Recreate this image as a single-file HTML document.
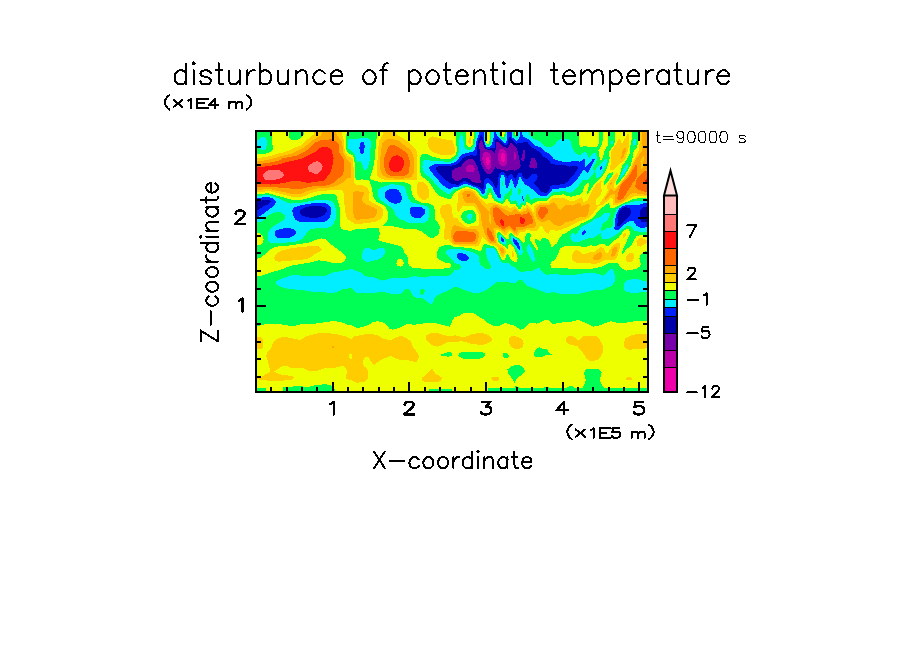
<!DOCTYPE html>
<html><head><meta charset="utf-8"><title>disturbunce of potential temperature</title>
<style>html,body{margin:0;padding:0;background:#fff;}body{width:904px;height:654px;position:relative;overflow:hidden;font-family:"Liberation Sans",sans-serif;}</style>
</head><body>
<svg width="904" height="654" viewBox="0 0 904 654" style="position:absolute;left:0;top:0">
<g shape-rendering="crispEdges">
<rect x="256.0" y="131.0" width="392.0" height="261.0" fill="#EEFF00"/>
<path fill="#FFCC00" fill-rule="evenodd" d="M382.75,215.5 381,218.5 378.5,220.25 374.5,222 357.5,224.25 354.5,223.75 350.5,220.75 347.75,219.5 346.5,217.5 344.75,209.5 343.75,193.5 343,191.5 342,190.5 339.5,189.5 332.5,189.5 326.5,190.5 318.5,191 312.75,192.5 302.5,196.75 298.5,197.25 290.5,196.5 269.5,191.25 255.5,192 255.5,157.75 260.5,157.75 267.5,156.75 278.25,153.5 283.5,152.5 288.5,150.75 294.5,147.5 300.5,145.5 303.5,143.5 306.5,140.25 313.75,134.5 314.25,130.5 341.75,130.5 341.75,133.5 344.25,141.5 344.5,149.5 345.25,152.5 347.5,155.75 351.5,157.5 352.5,159.25 353.5,166.5 353.5,178.5 354.25,182.5 355.5,184.25 356.5,184.75 362.5,185.5 366.5,187.25 367.75,188.5 369.5,192.5 368.75,198.5 369.25,200.5 372.5,203 379.75,206.5 382,208.5 383,210.5 383.25,212.5ZM416.5,180.5 387.5,180 382.5,179.25 380.5,178.5 377.75,176.5 376.75,174.5 376.75,170.5 378.5,146.5 379.5,140.5 383,134.5 383.25,130.5 396.25,130.5 396.25,133.5 397.5,135 404,138.5 412.25,145.5 416,149.5 417.5,155.5 417.25,178.5ZM444.5,238.75 444.25,232.5 445,223.5 443.5,219.5 440.75,215.5 440,211.5 440.5,208 441.25,206.5 442.5,205.5 447.5,204 449.5,204 450.25,204.5 451.75,207.5 452.25,213.5 453.5,217 454.5,217.75 457.5,218.5 459.5,221.5 464.5,226 466.5,226.75 477.5,226 478.5,224.75 479.25,221.5 479.25,216.5 478.75,214.5 475,207.5 473.75,206.5 471.5,206 462.5,206.25 459.75,210.5 458.5,211.75 457.5,211.25 457,205.5 458.25,199.5 457.75,194.5 459,192.5 461.5,190.5 466.5,188.75 470.75,189.5 474.75,191.5 480.5,198.5 486.5,203.5 487.5,203.75 491.5,202.5 493.5,202.5 503.5,206 506.5,205.25 510.5,208.5 514.5,206.25 519.5,211 521.5,210.5 523.5,207.25 525.5,208.25 526.5,205.25 527.5,205 530.5,207.5 533.5,212.25 534.25,206.5 536.5,204.5 541.5,202.75 546.5,203 548.5,202.5 552,198.5 553.5,198 558.5,198.25 563.5,197.75 569.5,200.75 572.5,201.25 575.25,200.5 581.5,197 582.25,197.5 582.75,201.5 583.5,202.25 584.5,202.25 587.75,199.5 591.5,191.5 595.25,185.5 597.5,183.25 601.5,180.5 601.75,181.5 600.5,185.5 600.5,187.75 602.25,190.5 600.5,194.5 596.25,199.5 595.5,201.25 595.5,203 596.5,204.5 598.5,205 605.75,194.5 607.25,191.5 607.75,189.5 606.75,186.5 608,183.5 615.5,173.75 617.5,172.5 618.25,173.5 618,175.5 613.5,184.5 613.5,186.5 614.5,187.75 615.5,187.75 618.5,185 626,175.5 630,169.5 634.5,158.5 638.5,150.5 639.75,142.5 639.75,130.5 648.5,130.5 648.5,196.25 634.25,196.5 630.5,198 620.75,203.5 615.5,205.5 613.5,205.25 612.75,204.5 612.5,198.5 611.5,197.75 610.5,198 603.5,204.25 598.5,206 593,213.5 587.5,218.5 583.5,220.25 579.5,221 567.5,227.5 564.5,228.25 560.5,230.25 555.5,230.75 551.5,229.75 550.5,230 548.5,233.75 546.5,233 545,231.5 542.5,227 540.5,225.5 538.5,229.25 535.5,231.25 533.25,231.5 528.5,230 526.5,230.25 523.5,232.25 520.5,232 519.5,232.5 518.5,235.5 517.5,236 515.5,235.5 511.25,231.5 509.5,230.75 508.5,231.5 506.5,235.25 504.5,235 500.5,231.25 497.5,229.75 496.5,230.25 495.75,231.5 496,236.5 497.25,242.5 498.5,244.5 503,246.5 504.5,248 505.5,250.25 505.5,252.5 503.5,257.25 502.5,257.25 500.5,254.5 497.5,247.25 496.5,246 488.5,243.25 482.5,237 479.5,244.5 478.5,245.75 475.5,246.5 454.5,245.25 452.75,244.5 448.5,239.25 445.5,239.75ZM610.5,170 609.75,169.5 611.5,158.5 611,153.5 611.5,150.75 615.75,144.5 618.5,138.5 619.5,138.5 621,140.5 621.5,143 622.5,143 627.5,134.25 628.5,133.75 629.25,137.5 629.25,142.5 628.25,149.5 626,156.5 624,160.5 622.5,162.25 618.5,164.75 613.75,169.5ZM454.5,152.5 453.5,153.75 451.5,154.75 446.5,155 440.5,154.5 433.5,152.25 430.75,150.5 428.5,147.5 427.5,143.5 427.75,140.5 429.75,137.5 432.5,136.25 442.5,139 451.75,140.5 452.5,141.25 454.75,147.5 455,150.5ZM469.5,143.75 468.5,142.75 468.25,140.5 469.5,137.5 470.5,137.25 471.25,141.5 470.5,143.75ZM426.5,199.25 424.5,199.75 422.5,199.5 419.5,197.75 418,195.5 416.75,191.5 416.75,188.5 417.5,183.5 418.5,181.5 420.5,181.5 424.5,182.75 426.5,184.5 427.5,186.25 429.25,191.5 429.25,195.5 428.5,197.5ZM623.5,238 623,237.5 623.5,234.25 625,232.5 626.25,232.5 626.25,234.5 625.25,236.5ZM636.5,244.75 636.5,241.5 637.5,239.75 639.5,238.25 642.5,238.25 646.5,240 648.5,240.25 648.5,243.25 646.5,243.25 640.5,246.5 637.5,246.25ZM572.5,260.5 571.75,257.5 572.25,254.5 573.25,252.5 575.5,250 577.5,249.75 582.5,253.5 584.5,254 589.5,252.25 594.5,251.75 599.5,247.75 601.5,247 603.75,248.5 605.5,252.5 606.5,253.5 607.5,253.5 613.5,244.5 618.5,242.5 620,242.5 620.5,243.25 620.25,246.5 617.5,255.75 616,258.5 613.5,260.25 606.5,259.5 604.5,260 599.5,263 594.5,264 584.5,262.5 576.25,262.5 573.5,261.5ZM274,258.5 274.75,255.5 277.5,252.5 281.5,250.5 288.5,248.75 301.5,246.75 316.5,246 319.5,246.75 321.25,248.5 321.5,249.5 320,251.5 313.5,254.75 310.5,257.5 305.5,259.25 278.5,261.75 275.5,261ZM513.5,257.25 512.5,257 511.5,254.75 511.5,249.25 513.5,252.5 514,255.5ZM627.5,262.25 625.75,259.5 626.5,255.75 629.5,253 630.5,252.75 633,253.5 634.25,255.5 634.25,257.5 633,260.5 630.5,262.25ZM418.75,355.5 418.5,358 417.5,360.5 416.5,361.5 414.5,362 407.5,360 399.5,359.75 396.5,359 391.5,356.25 389.5,356.25 380.5,360.25 374.5,364.5 372.5,364 368.75,357.5 367.5,356.5 366.5,356.5 364.5,358 363.25,360.5 362.75,363.5 364.25,366.5 366.5,368.25 368.25,370.5 368.25,377.5 366.5,380.5 364.5,381.5 357.5,382.75 355.5,382.5 351.5,380.5 348.5,380 346.25,378.5 345.75,376.5 347,372.5 347,370.5 344.5,366.75 341.5,366 334.5,367.75 325.5,368 316.5,371 311.5,371.25 308.5,370.75 304.5,368.75 301.5,368 292.5,368.25 286.5,366 284.5,365.75 281.5,366.75 274,371.5 279.5,374.25 282.5,375 292.5,376 293.75,377.5 293.25,378.5 291.5,379.5 282.5,380.75 268.5,380.75 255.5,379 255.5,377.5 258.5,377.5 262.5,376.25 270.25,371.5 268.25,362.5 266.25,356.5 266.75,352.5 270.5,348.75 273.75,341.5 275.5,339.5 278.5,338 282.5,337.25 287.5,337.5 299.5,339.75 301.5,339.25 307.5,335.75 317.5,333.25 326.5,333.25 334.5,333.75 346.5,336.5 350.5,339 352,338.5 354.5,336.25 365.5,334.25 372.5,334.25 377.5,335.25 383.5,338.75 390.75,340.5 396.5,337 399.5,336.25 402.5,336.5 407.5,338.75 409.75,340.5 411.25,342.5 413.75,348.5 417.5,352.75ZM425.5,337.25 426.25,335.5 429.5,333.5 432.5,333 438.5,333.5 444.5,335.25 449.5,336 455.5,335.25 462.5,337.25 464.5,337.25 471.5,334.25 480.5,332.75 485.5,334 489.5,335.75 491.5,337.5 492,339.5 491.5,340.75 489.5,342.5 483.5,344.5 476.5,344.5 470.5,343.5 462.5,341.25 447.25,342.5 439.5,346.25 437.5,346.5 433.5,345.75 429.5,343.5 425.75,339.5ZM624.5,347.5 623.75,344.5 624.5,340.5 625.5,338.5 627.5,337 631.5,335.25 636.5,334 648.5,334 648.5,348.25 628.5,349.75 626.5,349.25ZM602,354.5 600.5,357 597.5,359.75 593.5,361 589.5,360.75 586.25,358.5 582.5,351.75 577.5,346.5 568.5,344.25 566.25,341.5 566.25,338.5 568.25,336.5 571.5,336 574.5,337.25 577.5,340.25 579.5,339.5 583.25,336.5 586.5,335.5 591.5,335.5 596.5,336.5 599,338.5 602.75,345.5 603.25,349.5ZM522,347.5 518.5,349 514.5,348.75 511.75,347.5 510,345.5 508.75,341.5 508.75,339.5 509.75,337.5 511.5,336 514.5,335.75 521,338.5 522.75,340.5 523.5,343.5 522.75,346.5ZM261.5,348.5 255.5,349 255.5,337 260.5,337.5 262.5,339 263.25,340.5 263.25,344.5 262.5,347.5ZM350.5,359 351.5,358.5 352,356.5 351.5,353.75 350.75,353.5 349.5,354.25 349.25,357.5ZM442,378.5 440.5,380.75 438.5,381.5 432.5,382 424.5,381.5 422.5,380.75 421.5,379.5 422,377.5 426.5,374.5 431.5,368.5 432.5,369 435.5,373.5 441.5,377.25ZM499.25,379.5 497.5,381 494.5,381.25 491.5,379.5 491.25,378.5 491.75,377.5 493.5,376.5 496.5,376.5 498.5,377.5 499.25,378.5ZM632.25,378.5 631.5,379.75 629.5,380.25 626.5,380 625.5,378.75 627.5,377.25 630.5,377.5Z"/>
<path fill="#FFA500" fill-rule="evenodd" d="M255.5,189.75 255.5,161 260.5,161 267.5,160 293.5,153 304.5,147.25 312.5,140.25 320.5,135.75 322,133.5 322,130.5 336,130.5 336.75,135.5 341.5,140.75 342.25,142.5 343,152.5 347.5,160.5 350.25,162.5 350.75,163.5 351.5,173.5 350.5,177.75 347.5,178 343.5,182 335.5,186.25 326.5,188 316.5,188.5 308.5,190.5 302.5,193.25 299.5,194 290.5,193.5 270.5,189.25ZM605,199.5 605.5,197.5 610.5,189.25 611.5,189.25 613.5,191 615.25,190.5 627.5,175.25 630.5,170.75 636.25,158.5 641.5,151.5 641.5,143.5 642.25,138.5 642.5,130.5 648.5,130.5 648.5,194.5 644.5,194.5 633.5,193 631.5,193.5 626.25,198.5 622.5,201.25 617.5,203.25 615,202.5 615,195.5 614.5,194.25 613.5,193.5 610.5,195.25 605.5,199.75ZM411.5,176.5 409.5,177.5 403.5,178.5 393.5,178.5 387.5,177.75 384.5,176.5 382,174.5 381,172.5 380.25,168.5 380.5,156.5 381.75,145.5 382.75,142.5 384.5,140.5 386.5,139.5 391.5,138.75 398.5,140.75 401.5,142.5 403.5,144.75 408.5,148.25 410.75,150.5 412.75,154.5 414.25,159.5 413.75,171.5 413,174.5ZM621.5,159.5 621.25,157.5 622,151.5 623.5,149 624.5,148.25 625.5,148.25 625.5,151.5 623.25,157.5ZM641.5,168.75 642.5,168.25 643.5,166.5 643.25,162.5 644,158.5 643.5,156.25 642.5,156.5 640.5,161.5 641,164.5 640.75,167.5ZM610.5,184.75 610.25,183.5 611.5,181.75 611.5,183.75ZM373.5,217.5 365.5,219.25 361.5,219.25 357.5,220 355.5,219.25 354.25,217.5 353.25,212.5 353,206.5 353.5,198.5 353,193.5 353.5,192.25 355.5,191.25 362.5,191.75 363.75,192.5 363.75,194.5 362,198.5 362.25,200.5 363.25,202.5 366.5,204.75 374.25,207.5 376.5,209.5 377,211.5 376.75,213.5 375.75,215.5ZM535.75,225.5 534,227.5 532.5,228 527.5,228 522.5,229.75 518.5,229.5 516.5,233.75 514.5,233.25 510.5,229 508.5,228.75 504.5,232 498.5,228 496.5,227.5 494.5,227.75 493.5,229.5 495.5,239.5 495.5,242.5 493.5,243.5 490.5,242.75 488.5,241 485,234.5 481.75,223.5 481,214.5 477,205.5 474.5,203.25 465.75,202.5 464.75,201.5 463,197.5 462.25,194.5 462.5,193.5 464.5,191.25 467.5,190.5 470.5,191 473,192.5 481.5,203.5 488.5,211.5 489,211.5 489.5,221.5 490.5,224.25 491.5,223.5 490.5,215 489.5,212.5 489.75,209.5 492.5,205.5 495.5,205 497.5,205.5 503.5,209 509.25,211.5 512.25,211.5 514.5,209.25 515.5,209.5 518.5,212 520.5,212.75 522.5,212 523.75,210.5 526.25,210.5 527.5,208 530.5,210.75 533.5,215.5 535.75,222.5ZM536,215.5 535.5,211.5 536.25,208.5 538.5,205.75 542.5,204.5 548.5,205.25 553.5,202.25 556.5,204.75 558.25,208.5 560.5,209.75 565.5,205 572.5,205.5 578.5,202.75 579.5,203 581.5,205.5 582.5,205.75 588.5,203.5 589.75,205.5 588.5,212.5 587.5,214.5 585.5,216.5 583.5,217.25 580.5,217 577.5,217.75 572.5,220.75 565.25,222.5 561.25,225.5 559.5,226 555.5,225.25 553.5,224.25 549.75,220.5 548.5,220 543.5,222.25 540.5,221.5 537.5,219.5ZM477.25,242.5 475.5,243.75 473.5,244.25 454.25,243.5 452.25,241.5 451.25,237.5 451,231.5 452.75,226.5 454.5,225.25 455.5,225.25 466.5,229 474.5,229 476.5,229.75 478.25,231.5 478.75,233.5 478.75,237.5ZM502.5,253.75 501.5,253 500.25,250.5 500,248.5 500.5,247.5 502.5,247.75 503.75,249.5 503.5,252.75ZM612.5,256.75 611.25,255.5 612.25,249.5 613.5,247.5 615.5,246.5 616.5,247 617,248.5 616.5,251.75 614.5,255.75ZM593.75,259.5 592.75,257.5 594.5,255.25 599.5,252.25 600.5,252 601.5,253 602,255.5 600.5,258.5 597.5,260.25 595.5,260.25ZM333.5,347.75 332,347.5 331.5,346.5 332.5,345.5 333.5,345.5 334.25,346.5Z"/>
<path fill="#FF6600" fill-rule="evenodd" d="M255.5,187.25 255.5,164 261.5,163.75 273.5,162 278.5,160.5 282.5,158.5 296.5,155.5 301.25,153.5 307.5,149.75 310.5,147.5 315.5,142.25 320.5,140.5 331.5,139.25 335.5,141 338.25,143.5 338.75,144.5 338.75,150.5 339.25,152.5 343.25,158.5 344.25,162.5 344,170.5 342.5,175.5 337.5,179 333.5,182.75 330.5,184.25 325.5,185.5 315.5,185.75 299.5,189.25 271.5,187ZM406.5,174.75 404.5,175.75 399.5,176.5 392.5,176.25 388.5,175 386,172.5 383.75,165.5 384.25,157.5 388,147.5 390.5,145.25 393.5,145 398.5,147.25 405,151.5 407.75,154.5 409.75,160.5 410,164.5 408.5,172.5ZM617.75,200.5 617.25,198.5 618.75,190.5 621.25,184.5 628.75,176.5 635.5,165.25 636.5,165.5 636.75,175.5 636,178.5 632.5,183.25 623.75,197.5 620.5,200.25ZM648.5,192 645.5,192 638.5,189.75 636.5,188.5 635.25,186.5 636,181.5 637.5,177.75 641.5,173.5 644.25,171.5 646.5,170.75 648.5,170.75ZM470.25,195.5 468.5,197 467.5,196.75 467,195.5 467.25,194.5 468.5,193.75 469.5,194ZM532.5,222.5 531.5,224.5 529.5,224.25 524.5,226.75 522.5,227.25 517.5,226.75 516.25,227.5 515.5,229.5 514.5,230.5 510.5,226.75 508.5,226.25 506.5,227 504.5,228.75 502.25,228.5 496.5,224.75 494.75,222.5 493.25,215.5 493,210.5 493.5,208.5 495.5,207.25 498.5,208 503.5,213.25 507.5,215.75 510.5,215 513.5,215 516.5,213.5 520.5,214.5 522.5,214.5 524.5,213.75 526.5,214.25 528.5,212 531.75,216.5 532.5,219.25ZM540.5,218.5 538.75,216.5 538,213.5 538.75,209.5 540.25,207.5 544.5,206.75 547.5,208.5 548.25,209.5 548.25,211.5 543.5,218.25 542.5,218.75ZM493.5,241 492.5,241.5 491.5,241.25 489,238.5 486.5,232.75 486.5,228.25 487.5,228 488.5,228.5 491.25,231.5 493.5,237.25ZM476,237.5 474.75,240.5 472.5,241.75 455.5,241.75 454.5,241.25 453.25,238.5 453.5,235.5 454.5,232.75 456.5,231 473.5,231.75 475.5,233.5Z"/>
<path fill="#FF1111" fill-rule="evenodd" d="M255.5,184.25 255.5,167.25 261.5,167 278.5,164.5 285.5,162.25 299.5,159.25 304.5,157.5 315.5,151.75 319.5,148.25 321.5,147.25 328,147.5 330.25,148.5 331.75,150.5 333.5,158.5 332.5,165.5 331,170.5 329.5,173.5 325.5,179.25 323.5,180.75 311.5,182.5 306.5,182.5 297.5,180.75 293.5,180.5 282.5,183.25 270.5,184.5ZM398.5,172 394.5,172.25 392.5,171.5 390.25,169.5 389,166.5 389.5,162.25 391.5,158 393,156.5 396.5,155.25 399.5,155.75 402.5,158 403.5,160.25 404,163.5 403.5,166 401.5,170ZM648.5,184.25 645.5,183.5 644.75,180.5 646.5,178.75 648.5,178.5ZM522.5,224.5 520.75,223.5 519.5,221.5 520,217.5 521.5,216.75 524.5,219 525,220.5 524,223.5ZM502.5,225.75 501,224.5 500,221.5 500.5,219.5 501.5,218.75 504,221.5 504.25,224.5 503.5,225.5Z"/>
<path fill="#FF7777" fill-rule="evenodd" d="M314.5,173.75 309.25,171.5 307.75,169.5 307.75,167.5 308.5,166 312.5,162.75 316.5,161.25 318,161.5 320,162.5 321.75,164.5 322.5,166.5 322.25,168.5 321.5,170.25 319.25,172.5 317.5,173.5ZM283.75,174.5 283.5,175.5 281.5,177.5 278.5,179 272.5,180.25 268.5,180.5 265.5,179.75 264,178.5 263.25,176.5 263.5,173.5 265.5,171.5 267.5,170.5 273.5,169.5 279.5,170.25 282.5,172.25Z"/>
<path fill="#00FF55" fill-rule="evenodd" d="M271.25,151.5 273,149.5 272.25,143.5 272.25,130.5 255.5,130.5 255.5,154 264.5,154ZM304.25,132.5 304.25,130.5 288.5,130.5 288.5,134.5 289.25,137.5 291,139.5 293.5,140.25 297.5,140 300.25,138.5 303.75,134.5ZM437,235.5 438.75,233.5 439.75,227.5 439,224.5 435.25,219.5 434.5,216.75 434.5,209.5 433.75,206.5 430.5,203.75 421.5,202.5 415.5,199.75 413,196.5 411.5,191.5 410.75,185.5 409.5,184 404.5,182.5 387.5,182 381.5,182.5 371.5,179.75 370.5,179 370.25,176.5 372.75,169.5 374.25,162.5 377.25,130.5 347,130.5 345.75,138.5 346,148.5 347.5,152.5 352.5,155.25 353.75,157.5 355,165.5 355.25,177.5 356.25,179.5 358.5,180 361.5,179.25 368.5,180.25 369.5,181.25 371.75,187.5 373.75,198.5 376.5,201.5 384.5,206 387.25,209.5 388,213.5 388,218.5 386.5,222.25 383,225.5 383.5,226.25 392.5,226.25 403.5,228.5 416.5,229.25 421.75,231.5 428,236.5 430,237.5 433.5,237.5ZM420,171.5 421.75,176.5 428.75,181.5 435.5,192 437.5,194.25 440.5,196.25 447.5,198.5 450.5,198.5 452.5,196.5 453.75,193.5 455.5,191.5 462.5,188 465.5,187.25 468.5,187.5 476,190.5 482,197.5 484.5,198.75 486.5,198.75 487.5,198 489.5,192.5 490.5,192.5 492.5,198.25 494.5,200.5 498.5,203 502.5,203.75 504.25,202.5 505.75,199.5 506.5,198.75 507.5,198.75 510.5,204.25 515.5,204 518.5,208.5 519.5,209 520.75,208.5 522.5,205 524.5,206 525.25,205.5 526.5,202 527.5,202 531.5,204.75 535.5,202 537.5,201.25 547.5,200.5 551.5,196.25 553.5,195.25 557.5,195.25 563.5,194.25 567.5,196 571.5,196.75 575.5,195.5 579.5,195 582.75,191.5 584.75,185.5 586.5,183.5 588.5,182.75 589.25,183.5 587.25,191.5 587.5,194 594.5,183.75 602.25,176.5 606.75,168.5 609.75,158.5 609,154.5 609.25,151.5 613.5,145.5 615.25,141.5 614.75,130.5 608,130.5 608.25,142.5 607.5,145.5 604.25,151.5 602.75,157.5 601.75,159.5 600.5,160.25 598.5,152.75 598.5,150.5 601.75,144.5 602.5,141.5 602.75,130.5 598.5,130.5 599,143.5 597.5,146.25 595.5,147.25 592.75,146.5 588.5,147.25 585.5,146 583.5,146 581.5,147 579.75,146.5 578.75,142.5 578.5,130.5 516,130.5 515.5,135 514.5,133.5 514.5,130.5 504.5,130.5 504.5,133.5 503.5,136.75 502.5,136.75 501,135.5 500.25,133.5 500.25,130.5 489.5,130.5 489.75,140.5 488.75,143.5 487.5,144 486.5,142.75 486,140.5 486,130.5 474,130.5 474,135.5 472.75,144.5 471.25,146.5 469.5,147 467.5,146.25 466.5,144.75 466,142.5 466.25,130.5 456.25,130.5 456,143.5 456.75,147.5 456.75,151.5 455.5,155 450.5,159 448.5,159.5 439.5,158.5 432.5,156.75 426.5,154 423.5,153.5 421.5,155.25 420.5,157.5 419.75,163.5ZM616.5,185 617.5,184.5 624.5,175.75 630.5,165.75 632.75,157.5 633.5,151.5 636.5,147.5 638,143.5 637.75,130.5 632.25,130.5 632.25,135.5 630.5,145.5 629.75,153.5 627.5,158.5 621.75,166.5 620.5,172.5 619,176.5 616.25,181.5 615.5,184.5ZM603.5,185 604.5,185.25 605.5,184.5 611.5,177 613,173.5 612.5,172.25 609.5,173 607,175.5 604,181.5ZM255.5,325.5 259.5,325.5 266.5,323.75 274.5,323.5 285.5,325 290.5,326.25 293.5,326.25 302.5,323.75 314.5,323.75 331.5,321.25 335.5,321.25 341.5,322.25 347.5,324.5 350.75,324.5 354.5,327 357.5,328 367.5,325.5 373.5,321.75 377.5,321.25 382.75,322.5 385.5,323.75 389.5,328.5 392.5,329.75 398.5,328 405.5,324.5 407.5,324 414.5,324.75 429.5,322.5 433.5,322.75 449.5,326.5 450.5,325.5 452.25,320.5 454.5,317 458.5,316.25 462.5,313.5 465.5,312.75 471.5,312.75 473.5,313.25 483.75,319.5 487.5,323 493.5,325.5 497.5,326.25 500.25,325.5 503.5,323.5 506.5,323.25 514.5,325.75 520.5,329.5 523.5,328.75 529.5,323 532.5,322.75 536.5,323.5 540.5,322.5 544.5,320.25 546.5,319.75 549,320.5 552.5,324 563.5,322.25 569.5,322.25 576.5,320.25 579.5,320.25 593.5,326.5 597.5,326 610.5,321.25 618.5,323.25 622.5,323.25 635.5,321 648.5,321 648.5,250.75 646.5,250.75 644.5,251.5 640.5,255 639.25,258.5 640.75,264.5 639.75,266.5 636.5,268.5 630.5,270.25 626.5,270.5 622.5,269 620.5,267.25 618.5,263.75 617.5,263.25 608.5,263.25 600.5,267 593.5,268.5 567.5,268.5 561.5,267.75 553.5,268.25 551.5,267.5 550.25,264.5 551.5,261.75 554,260.5 555.75,258.5 560.5,248.25 562.5,246.75 566.5,245.75 571.5,246.25 578.5,245.75 584.5,247.5 590.5,245.25 594.5,246.25 601.5,243.75 604.5,244 607.5,246.25 608.5,246.25 613,241.5 618.5,237.5 623.75,230.5 627.5,228.5 628.5,229 629.5,230.5 629.5,234.5 625.5,244.25 622.75,249.5 622,252.5 622.5,254.25 626.25,249.5 631.5,245.25 633.75,240.5 636.5,236.5 640.5,235 648.5,235.5 648.5,198 638.5,198.25 633.5,199 623.5,203.25 614.5,208 611.5,208.5 610,207.5 609.25,203.5 608.5,203 601.5,208.25 591.5,218.75 586.5,221.5 581.25,223.5 576.5,227 571.5,229 567.5,232.25 562.5,234.5 559.5,237.5 556.75,243.5 552.5,246.75 551.5,246.5 548.5,240 545.5,238 542.5,237.75 541.5,238.5 540.5,240.5 539.5,240.75 536.5,239 535.5,239 535,239.5 535,241.5 537.75,247.5 538,249.5 537.5,250.25 536.5,250 530.25,240.5 530,238.5 531,235.5 530.75,234.5 528.75,232.5 527.25,232.5 526.5,233.5 525,237.5 524.75,241.5 523.5,243 519.25,238.5 515.5,236.75 511.5,233.5 510.5,233.25 509.5,234.5 508.5,238.5 507.5,239.25 504.5,237.25 499.5,232.25 498.5,232.25 497.5,233.25 497.25,237.5 498.25,241.5 499,242.5 504.5,246.25 507.5,249 508.5,245 509.5,243.5 512.5,246 514.25,248.5 516.25,253.5 517.5,258.5 517.25,260.5 516.5,261.5 514.5,262 511.5,260.5 510,258.5 508.5,255 507.5,254.25 506.25,255.5 505,259.5 503.5,260.5 502.5,260 500.5,257.5 497,249.5 494.5,246.75 488.5,245.25 486.5,244.25 484.5,244.25 483.25,245.5 481.25,250.5 480.5,251.25 471.5,248.25 459.5,247 454.5,247 452.5,246.5 449.5,244.5 447.5,244.5 441.5,246.25 439.5,247.5 438,249.5 436.75,253.5 436.75,257.5 438.5,259.5 444.5,262.5 449.5,263.5 450.5,264.5 450.5,266.5 449.5,268 444.5,268.25 440.5,269.25 432.5,269.25 416.5,268.25 412.5,267.5 409.5,265.75 407.75,262.5 408,258.5 407.5,256.75 404.25,252.5 403.25,249.5 401.5,247 398.5,245.5 380.5,241.25 379.25,240.5 378.5,239.5 379.5,234.5 379.5,231.5 378.5,228.25 371.5,228 362.5,229 357.5,229 354.5,229.5 351.5,230.75 344.5,230.25 341.5,229 340,225.5 340.5,215.5 339.5,206.5 336.25,195.5 334.5,194 329.5,193.5 320.5,194.5 306.5,198.75 299.5,200.25 292.5,200 268.5,193.25 255.5,194.25 255.5,232.5 258.5,232.75 261.25,234.5 262.75,236.5 263.5,239.5 263.25,242.5 260.5,244.75 255.5,245 255.5,258.5 257.5,258.5 260.75,257.5 264.5,254.75 270.5,249 273.5,247.5 277.5,246.5 288.5,245.5 309.5,242.5 316.5,239.5 321.5,238.25 326.25,239.5 330.5,243.75 343.5,253.5 345.75,256.5 345.5,259.5 344.5,261.25 340.5,263.25 336.5,263.5 332.5,263 325.5,261.25 318.5,260.25 310.5,262.5 292.25,265.5 288.5,266.5 279.5,270.25 272.5,271.75 264.5,274.75 260.5,275.75 255.5,276ZM475.25,221.5 476.25,219.5 476.5,216.5 475.5,213.75 473.5,210.75 471.5,210 468.5,210 463.5,211.75 462,213.5 461.25,215.5 461.25,217.5 463,220.5 465.5,223 467.5,223.75 469.5,223.75 473.5,222.75ZM400.5,266.75 397.5,266 396.25,263.5 397,260.5 399.25,258.5 401.5,259 403.25,261.5 403.75,263.5 402.75,265.5ZM551.75,354.5 549.5,353.25 546.5,348.75 543.5,349 539.5,347.25 537.5,348 535.75,349.5 533.5,353.5 533.5,354.5 535,356.5 537.5,357.25 540.5,357.25 547.5,354.75 550.5,355ZM452,354.5 451,352.5 448.5,352 440.75,354.5 440.5,355.5 448.5,356.75 451.5,355.75ZM485.5,354.5 484.5,353.25 481.5,352 466.5,351.5 460.5,352.5 458.75,353.5 458.25,355.5 459.5,357 463.5,358.5 478.5,358.75 481.5,358.25 483.5,357.25 485.25,355.5ZM508.5,357.25 508.75,355.5 507.25,353.5 505.5,352.75 503.25,353.5 502.75,355.5 504,357.5 507.5,358ZM514.5,383.25 516.75,378.5 522.5,374.25 524.75,371.5 524.5,369.5 523.5,367.75 519.5,365 517.5,364.75 512.5,365.75 510.5,366.75 507.5,369.5 507.5,372.25 512,378.5ZM648.5,392.5 648.5,387.75 603.75,387.5 601.5,384.5 600,380.5 600,378.5 601.5,372.5 601.25,371.5 598.5,369.25 594.5,368.5 589.5,368.75 586.25,369.5 584.75,370.5 584,373.5 585.5,378.5 585.5,380.5 584.5,384.25 582.75,387.5 576.5,387.75 574.5,387.5 572.5,386.25 569.5,386.25 567.5,387.5 561.5,388 550.5,388 546.5,387 543.5,387.5 525.5,387.75 519.5,387.5 515.5,386 515.25,387.5 488.5,388 487.75,388.5 487.75,392.5ZM334.5,392.5 334.5,389.25 333.75,387.5 330.75,385.5 326.5,384.25 316.5,384.75 308.5,387 299.5,386.25 285.5,386.75 282.75,387.5 282.75,392.5ZM266,392.5 266,388.5 265.5,388 255.5,388 255.5,392.5ZM452.25,392.5 452.25,389.5 451.5,389 429.5,389 429,389.5 429,392.5Z"/>
<path fill="#00EEFF" fill-rule="evenodd" d="M597.25,157.5 595.5,153.25 594.5,152.75 592.75,153.5 589.5,157.75 588.5,157.25 587.5,154.5 585.5,152.25 584.5,152 581.5,154.25 579.5,155 576.5,154.25 574.5,152.25 572,146.5 570.25,140.5 569.25,139.5 567.5,139 560.5,139 558.5,140 557,141.5 555.5,144.25 553.5,146 549.5,147.25 546.5,147 544.5,146 539.5,140.75 535.5,140 530.75,136.5 528.75,133.5 528.75,130.5 518,130.5 517.75,135.5 516.75,137.5 515.5,138 513.5,136.25 512.75,133.5 512.75,130.5 505.75,130.5 505.5,136.5 504.5,139.75 503.5,139.75 501.5,138.5 499,135.5 498.5,130.5 491.5,130.5 491.25,138.5 490.5,143.75 489.5,145.25 488.5,145.75 487.25,145.5 485.75,143.5 485,140.5 484.75,130.5 476.5,130.5 476.25,135.5 474.25,145.5 472.5,148.5 470.5,149.5 467.25,149.5 465.25,148.5 464.5,147 462.75,136.5 461.5,134.25 459.25,138.5 458.5,141.5 459,151.5 457.75,155.5 455.5,158.5 451.5,161.25 449.5,161.75 431.5,161 425.5,159.5 423.25,161.5 422.25,167.5 423,170.5 424.5,173.25 430.5,178 439.75,188.5 447.5,193.5 449.5,193.75 450.5,193.25 453.5,189.75 459.5,188 465.5,185.5 476.5,189 478.5,190.75 481.5,195 482.5,195.75 484.5,196 486.5,193.5 488,188.5 489.5,187.5 491.5,189.25 493.75,195.5 495.5,198.5 498.5,201.25 500.5,201.75 502.5,201 505.25,194.5 509,191.5 510.5,188.75 511.5,188 512.25,193.5 510.5,196.25 510.25,199.5 511.5,201.5 515.5,200.25 516.75,201.5 518.25,204.5 519.5,205.5 521.5,202.5 522.5,202.25 524.5,204 525.25,197.5 527.5,193.5 528.5,193.5 530,198.5 531.5,199.5 535.5,197.75 539.5,198.25 547.5,198 551.5,193.5 553.5,192.25 557.5,192.25 561.5,191 564.5,191 569.5,192.75 572.5,192 577,187.5 582.25,180.5 587.5,179.75 592,175.5 594,171.5 593.25,169.5 593.25,167.5 597,160.5ZM262.5,150 264.75,149.5 265.75,148.5 267,143.5 266.5,139.5 265.5,137.75 263.5,136.5 261,137.5 258.5,139.5 255.5,140.5 255.5,147.25 256.5,147.25ZM366.5,169.25 368.25,166.5 369.75,159.5 369.75,151.5 371.25,144.5 371.25,142.5 369.5,139.5 367.5,138.5 363.5,137.5 360.5,138 357.5,139.25 352.5,138.5 349.5,138.75 348.5,139.5 347.5,142.25 347.5,145.5 348.25,148.5 352.5,151.5 354.25,153.5 357.5,162.5 359.5,161.25 360.5,161.25 362,163.5 362.75,166.5 364.25,169.5 365.5,169.75ZM633.5,146.25 635.5,144.5 636,142.5 635.5,139 634.5,139 633.25,141.5 632.75,144.5ZM611.5,144.5 612.5,143.5 612.5,141 611.5,141.25 610.75,143.5ZM596.5,178.25 599.5,177 602.25,173.5 606.75,162.5 607.25,159.5 606.5,158.5 605.5,158.75 597.5,166.75 595,170.5ZM620.5,178.5 624.5,173.5 627.75,167.5 628.25,165.5 627.5,164.25 625.75,165.5 623.25,169.5 620,177.5ZM607.5,179 609.5,177.25 610,175.5 609.5,175.25 608.5,176.25ZM502.5,186 502,184.5 502.5,181.25 503.5,184.5ZM427.5,220.5 428.5,218.5 429.5,213.5 429.25,208.5 426.5,206 413.5,203 410.5,201.75 408.25,198.5 405.25,188.5 403.75,186.5 399.5,185 392.5,184.25 389.5,184.5 380.5,187.75 378.25,189.5 377.75,194.5 378.75,197.5 381.5,200.75 392.5,208.5 394.5,211.5 395.75,215.5 398.5,218.25 408.5,222.5 414.5,223.5 422.5,223.25 425.5,222.25ZM519.5,194.75 518.5,194.5 517.75,192.5 518.5,188.75 519.5,187.5 520.5,189.5 520.5,192.5ZM255.5,222.5 260.5,222.25 262.5,221.25 267.5,216 273.5,212.75 277.5,211.75 280.75,212.5 284.5,215 285,216.5 284.75,218.5 283,220.5 273.5,226.25 269.5,229.75 268,232.5 267.75,234.5 268.25,240.5 269.75,242.5 271.5,243 281.5,243 294.5,241.75 297.5,241 302.5,238.75 307.5,231.75 310.25,229.5 316.5,228.25 325.5,228.25 331.5,226.25 333.75,223.5 335.5,218.75 336,215.5 335.75,208.5 333.75,203.5 331.5,201.25 327.5,199.75 317.5,199.75 301.5,202.75 290.5,203.5 286.5,202.25 281.5,199.5 269.5,195.25 267.5,195 255.5,196ZM571.5,240 573.5,241.5 578.5,242 587.5,238.5 591.5,238.25 593.75,237.5 600.5,233 601,233.5 601.5,237 602.5,238.5 608.5,239 618,233.5 625.5,226.75 628.5,225.5 630.5,226 634.5,230.75 638.5,231.5 648.5,231.5 648.5,200.25 643.5,200.25 633.5,201.5 623.5,204.5 620.5,206 616.5,209.5 612.75,219.5 613,224.5 612,226.5 610.75,227.5 607.5,227.5 601.5,231.5 600.75,229.5 602,224.5 607.5,220 610,215.5 609.5,213.25 606.5,212.5 604.5,212.75 600.5,217 595.5,218.75 589.5,223 582.5,226.25 580.5,228.25 576.5,234.5 575.5,234.75 572.5,232.75 571.5,233.75 570.5,236.5ZM469,219.5 470.5,219.5 472.25,217.5 472.25,215.5 471.75,214.5 470.5,213.75 468.5,214.25 467.25,215.5 467,217.5 467.5,218.5ZM505.5,244.75 506,242.5 504.75,239.5 501.5,235.25 500.5,234.75 499.5,235 498.75,236.5 498.75,238.5 499.75,241.5 502.5,243.75ZM520.5,255.5 521.5,255 522.5,252.5 522.5,249.5 520.75,243.5 519.5,241.25 517.75,239.5 512.5,236 511.5,236.25 511,237.5 511.5,241.5 516,248.5 519.5,255ZM534.5,261.5 535,258.5 533,251.5 531.5,248 528.5,244 526.75,247.5 526.5,249.5 531,259.5 532.5,261.5ZM275.75,283.5 277.5,285.5 280.5,287 289.5,289.25 300.5,289.75 312.5,291.75 330.5,292.75 335.5,292.5 342.5,289.5 350.5,288 352.25,288.5 355.5,292.5 357.5,293.25 360.5,292.75 372.5,293 382.5,291.75 391.5,293.75 400.5,293.5 402.5,292.5 405.5,289.25 408.5,288.75 410.5,290.5 412.25,294.5 414,296.5 416.5,297.75 422.5,298 430.5,304.25 432.25,303.5 434.5,298.5 437,295.5 439.5,294 449.5,290 454.5,286.5 456.5,286.75 470.5,292.25 473.5,293 478.5,293 483.5,291.5 491.25,286.5 496.5,282.25 499.5,281.5 502.5,281.5 513.5,283 515.75,282.5 519.5,279.75 520.75,279.5 522.5,280.25 524.75,283.5 527.5,285.75 546.5,293 553.5,292.25 560.5,293.75 578.5,293.75 586.5,292.25 594.5,290 602.75,289.5 611.75,285.5 614.25,282.5 615,279.5 615,275.5 613.5,270.75 612.75,269.5 611.5,268.75 609.5,269.5 606.5,273.25 603.5,275.5 595.5,273.5 590.5,273 585.5,273 577.5,274.5 569.5,275.25 562.5,275.25 554.5,273.5 551.5,273.5 547.5,275 543.5,273.25 538.75,267.5 532.75,270.5 526.5,271 522.5,272.25 520.5,272.25 515.5,268 510.5,265 508.5,262.75 507.25,262.5 505.5,263.25 503.5,263.25 501.5,262 500.25,260.5 495.25,249.5 494.25,248.5 487.5,247.5 486,248.5 485.5,250.5 487.5,259 491,265.5 490.25,268.5 488.5,269.5 485.5,268.5 480.5,265 479.5,262.5 478.75,256.5 476.5,254.25 471.5,252 466.5,250.5 458.5,249 454.5,249.5 449.5,249 447.5,250 446.5,251.5 446.25,253.5 446.75,254.5 451.5,258.75 454.5,262.5 456.5,263.75 459.5,264.5 461,266.5 460.25,268.5 458.75,269.5 454.5,270.25 451.5,274.25 449.5,275.5 431.5,276 424.5,277.5 414.5,276.25 406.5,278 389.5,278.5 384.5,280.25 381.5,280.5 375.5,277.75 366.5,276.5 364.5,275.5 360.5,272 356.5,271.25 352.75,269.5 350.5,269.25 333.25,272.5 326,275.5 321.5,276.25 309.5,276.5 293.5,274.75 280.5,279 276.5,281.5ZM362.5,258.5 364.5,261 366.5,261.75 370.5,261.5 378.5,259.25 381.5,257.75 384.25,254.5 385.5,251.75 385.25,249.5 384.5,248.5 382.5,247.75 378.5,248.25 375.5,249.75 372.5,249.5 368.5,247.75 365.5,248 364.5,248.5 363,250.5 362,255.5ZM648.5,291.5 648.5,281.75 643.5,281.25 638.5,279.25 633.5,279 627.25,280.5 625.75,281.5 624.25,283.5 623.75,285.5 624.25,289.5 624.75,290.5 626.5,291.75 631.5,292.75 637.5,292.75 644.5,291.5ZM421.5,295.25 420.5,294.25 420,291.5 420.5,289.75 422.5,288.75 424.25,289.5 424.75,291.5 423.5,294.5 422.5,295.25Z"/>
<path fill="#0022FF" fill-rule="evenodd" d="M429.5,169.5 435.5,177.25 442.25,184.5 445.5,187.25 448.5,188.75 450.5,188.5 453.5,187 458.75,186.5 464.5,183.5 465.5,183.5 477.5,188 479.5,189.75 481.5,192.75 482.5,193.5 483.75,193.5 484.75,192.5 486.5,183.5 487.5,182.75 488.5,182.75 492.5,187.25 495.5,194.25 498.5,197.75 499.5,198 500.5,197.5 500.75,196.5 499.75,185.5 500.25,178.5 501.25,175.5 502.5,174.75 503.5,175 504.5,176.5 505.5,185 506.5,187.5 507.5,187.75 508.5,186.5 510.5,179.5 511.5,179 512.5,180.5 514.5,186.5 515.5,187.5 517.25,184.5 519.5,177 520.5,177.5 522.75,181.5 525.5,184.75 530.25,187.5 538.5,194.75 540.5,195.5 546.5,195.75 548.5,194.5 552.5,189.25 564.5,187.75 568.5,186.75 570.75,185.5 577,179.5 583.5,169.5 587.5,172.5 588.5,171.5 594.5,159.5 593.5,158.5 592.5,159.25 590.25,162.5 584.5,167.75 584.5,159.25 583.5,159.25 582,160.5 579.5,161.5 574.5,160.75 570.5,161.5 562.5,161.75 555.5,160 553.5,158.5 549.5,154 544.75,151.5 540.5,147.25 535.5,145.5 529.25,139.5 523.5,136.75 522,134.5 521.75,130.5 520.25,130.5 519.5,136.5 518,139.5 516.5,140.5 515.5,140.5 512.5,137.5 511.5,134.5 511.5,130.5 507,130.5 506.5,141.5 505.5,142.75 504.5,143 497.5,136.25 496,133.5 496,130.5 494,130.5 494.25,134.5 492.25,143.5 490.5,146.5 488.5,147.25 486.5,146.5 484.75,143.5 483.75,137.5 483.5,130.5 478.5,130.5 478.5,134.5 476.5,141.25 475.75,146.5 474.5,150.25 473.5,151.25 462.5,154 460.5,155.75 457.5,160.5 453.5,162.75 450.5,163.75 439.5,163.5 435.5,164 430,166.5 429.25,167.5ZM362.5,154.25 364.25,151.5 364.75,145.5 363.5,142.5 361.5,142 359.75,144.5 359.25,148.5 360.5,153ZM599.5,170 600.5,170 601.75,168.5 602.5,165.25 600,167.5ZM401,201.5 401.5,199.75 401.5,195.5 400.25,192.5 398.5,190.5 395.5,189 391.5,188.75 388.5,189.5 385.5,192 384.75,193.5 385.25,197.5 386.5,199.5 389.5,202 394.5,203.5 396.5,203.5 400.25,202.5ZM523.5,200.75 523.5,198.5 522.5,196 522.25,198.5ZM255.5,216.5 258.5,216.5 260.75,215.5 270.5,208.5 274,205.5 276,202.5 275.25,200.5 272.75,198.5 268.5,197 255.5,198ZM331.5,212.5 331,207.5 329.5,205.5 326.5,203.75 323.5,203 310.5,203.5 300.5,205.25 294.5,207.5 293,208.5 292,210.5 293.5,216.5 295.25,219.5 298.5,221.5 301.5,222.25 322.5,222 325.5,221.25 329.5,218.5ZM614.5,229.5 616.5,230.5 618.5,229.75 626.5,222.75 629.5,221 631.5,220.5 633.5,221 636.25,225.5 639.5,227.5 642.5,227.75 648.5,227 648.5,203 643.25,203.5 637.5,205.25 634.5,205.25 631.5,204.5 625.5,205.25 622.5,206.25 619.5,208.25 617,212.5 615.25,218.5 615.5,223.5 614.25,227.5ZM424.5,213.5 425,211.5 424.5,209.5 421.5,207.5 418.5,206.75 413.5,206.5 411.5,207 410,208.5 409.5,210.5 410.5,214.25 412,216.5 414.5,218 417.5,218.25 420.5,217.75 423.25,215.5ZM296,231.5 295.5,230.5 293.5,229.25 289.5,228.25 284.5,228.25 279.5,229.25 276.5,230.5 275.25,231.5 274.5,234.5 275.5,236.5 277.25,237.5 279.5,238 288.5,237.75 291.5,237 294.25,235.5 295.5,233.75ZM582.5,234.75 584.5,234.25 585.5,232.75 585.5,230.75 584.5,230.25 582.5,232 582,233.5ZM503.75,242.5 504,240.5 503,238.5 501.5,237 500.5,237.5 501,240.5 502.5,242.25ZM519.5,249.75 520,248.5 519.75,246.5 518.25,242.5 516.5,240.25 513.5,238.25 513,240.5 513.75,242.5 518.5,249.25ZM469,258.5 469,257.5 467.5,255.5 465.5,254.25 461.5,253.25 458.5,253.25 457.25,254.5 456.75,256.5 457.5,258.5 460.5,260.5 465.5,261 467.25,260.5Z"/>
<path fill="#0000AA" fill-rule="evenodd" d="M577.5,167.5 576.75,166.5 575.5,166 569.5,166.5 565.5,165.25 557.5,165 551.5,163.75 547.5,159 543.5,156.75 539.25,151.5 531.5,147.25 527.5,142.5 524.5,142.25 516.5,143.5 514.75,142.5 510.5,137.5 509.5,137 508.5,139.25 507.75,143.5 506.5,145 505.5,145.25 503.5,144.5 499.5,140.5 496.5,138.75 495.5,139.5 495,141.5 494.5,148 493.5,148.25 492.5,147.5 489.75,148.5 487.5,148.5 485.5,147 484.25,144.5 482.75,137.5 481.5,135.25 480.5,136 478.25,140.5 477.5,144.5 477.25,151.5 476.5,154.75 475.5,155.75 470.5,155.25 464.5,157 462.5,158.25 459.5,162.5 457.5,164 450.5,166 441.5,165.75 438.5,166.25 436.5,167.5 436,169.5 437.5,172.25 445.5,180.25 451.5,183.75 457.5,184.75 458.75,184.5 463.5,181.25 465.5,181 471.5,184.25 478.5,186.5 482.5,189.75 483.5,188 484.25,180.5 485.5,178.5 486.5,178.25 488.5,178.5 490.25,179.5 492.75,182.5 495.25,187.5 496.5,188 497.75,184.5 497.75,180.5 499,174.5 501.5,172.25 502.5,172 504.5,173 507.5,177.75 509.5,174.5 510.5,173.75 511.5,173.75 515.5,179.75 518,173.5 519.5,172.5 521.5,173.5 523.5,177.75 525.5,179 528,178.5 531.75,174.5 534.5,173.5 536.5,174.25 537.75,176.5 536.75,179.5 534,182.5 534.75,184.5 538.25,187.5 539.5,190.25 540.75,191.5 544.5,192.75 546.5,192.75 548,191.5 550.5,186.5 552.5,185 557.5,185 564.5,183.75 567.5,181.75 576.25,171.5 577.5,168.75ZM255.5,209.75 258.75,209.5 263.5,206.25 268.5,204.25 270.25,202.5 270.5,201.5 270,200.5 267.5,199.5 265.5,199.5 260.5,201 255.5,201.25ZM326.5,211.5 326.5,209.5 325.25,207.5 321.5,206.25 315.5,206 308.5,206.5 304.5,207.5 300.75,209.5 299.75,211.5 300.5,213.75 302.5,216 309.5,217.75 316.5,217.75 320.5,217 324.5,214.75ZM617.5,226.25 618.5,226.25 621.25,224.5 629.75,215.5 630.75,213.5 630.75,210.5 629.5,208.25 626.5,207.25 623.5,207.5 621.5,208.5 619.75,210.5 617.5,217.5 618,219.5 617.25,224.5ZM642.25,222.5 648.5,221.5 648.5,206.5 643.25,207.5 640,210.5 639.5,212.5 639.75,217.5 640.5,220.5ZM516.5,244.25 516.5,242.75 515.5,241.5 515.5,242.75Z"/>
<path fill="#7700AA" fill-rule="evenodd" d="M487.5,173.75 490.5,174 492.25,172.5 495.5,167.25 497.5,168.75 506.5,171 510.5,169.5 514.5,170.75 519.25,168.5 520.5,165.5 520.25,161.5 519.5,160 517.25,149.5 515.5,146.75 511.5,142.75 510.5,143 508.5,147.5 506.5,147.75 503.5,146.75 498.5,142.25 497.5,141.75 496.5,142 495.75,149.5 494.5,153 491.5,150.5 488.5,150.25 485.5,149 483.75,146.5 482.5,141.5 481.5,140 480.5,140.5 479.25,143.5 480,159.5 482,166.5 484.5,171.5ZM523.5,161.5 524.25,160.5 525,154.5 525,151.5 524.5,150.5 523.5,150 521.25,158.5 521.5,160.5ZM534.5,168.75 536.5,167.5 537.25,165.5 537.25,163.5 535.5,159.75 534.5,158.5 532.5,157.5 531.5,158 530.75,159.5 529,166.5 530.25,167.5ZM480.75,182.5 480.25,176.5 477.25,166.5 475.5,162.5 472.5,159.25 469.5,158.75 464.75,161.5 460.5,166.75 455.5,168.5 452,170.5 451.75,174.5 452.25,177.5 453.5,179.5 456.5,181.25 457.5,181.25 462.25,178.5 466.5,178 468.5,178.75 472.5,181.5 477.5,183.25 479.5,183.5Z"/>
<path fill="#BB00AA" fill-rule="evenodd" d="M503.5,166.25 505.25,165.5 507,163.5 507.5,161.5 507.25,154.5 506.5,152.5 504.5,150 502.5,149 500.5,149 499.5,149.75 498.75,151.5 497.75,158.5 499.75,164.5 501.5,166ZM488.5,169.75 490.5,167.5 491.5,163.5 491.25,156.5 489.5,153 487.5,152.25 484.5,152.25 483.5,152.75 482.75,154.5 482.25,159.5 485.5,167.5 486.5,168.75ZM514.5,159.5 515.5,158.5 515.5,153.5 514.5,151.75 513.75,154.5ZM473.5,172.25 474.75,169.5 474.5,167.5 473.5,165.75 471.5,164.5 468,165.5 466.25,167.5 466,170.5 466.5,171.5 470.5,172.5Z"/>
<path fill="#EE00AA" fill-rule="evenodd" d="M502.5,162 503.5,161.75 504.5,160.5 505,158.5 504.5,154.25 503.5,152.75 502.5,152.75 500.75,155.5 500.75,159.5ZM488.5,165.25 489.5,163.5 489.75,160.5 488.5,157 487.5,156.75 486.25,158.5 486,161.5 487.5,165.25Z"/>
</g>
<path d="M271.33,131.0v4.8M271.33,392v-4.8M286.66,131.0v4.8M286.66,392v-4.8M302.00,131.0v4.8M302.00,392v-4.8M317.33,131.0v4.8M317.33,392v-4.8M332.66,131.0v9.6M332.66,392v-9.6M347.99,131.0v4.8M347.99,392v-4.8M363.32,131.0v4.8M363.32,392v-4.8M378.66,131.0v4.8M378.66,392v-4.8M393.99,131.0v4.8M393.99,392v-4.8M409.32,131.0v9.6M409.32,392v-9.6M424.65,131.0v4.8M424.65,392v-4.8M439.98,131.0v4.8M439.98,392v-4.8M455.32,131.0v4.8M455.32,392v-4.8M470.65,131.0v4.8M470.65,392v-4.8M485.98,131.0v9.6M485.98,392v-9.6M501.31,131.0v4.8M501.31,392v-4.8M516.64,131.0v4.8M516.64,392v-4.8M531.98,131.0v4.8M531.98,392v-4.8M547.31,131.0v4.8M547.31,392v-4.8M562.64,131.0v9.6M562.64,392v-9.6M577.97,131.0v4.8M577.97,392v-4.8M593.30,131.0v4.8M593.30,392v-4.8M608.64,131.0v4.8M608.64,392v-4.8M623.97,131.0v4.8M623.97,392v-4.8M639.30,131.0v9.6M639.30,392v-9.6M256.0,377.02h4.8M648.0,377.02h-4.8M256.0,359.34h4.8M648.0,359.34h-4.8M256.0,341.66h4.8M648.0,341.66h-4.8M256.0,323.98h4.8M648.0,323.98h-4.8M256.0,306.30h9.6M648.0,306.30h-9.6M256.0,288.62h4.8M648.0,288.62h-4.8M256.0,270.94h4.8M648.0,270.94h-4.8M256.0,253.26h4.8M648.0,253.26h-4.8M256.0,235.58h4.8M648.0,235.58h-4.8M256.0,217.90h9.6M648.0,217.90h-9.6M256.0,200.22h4.8M648.0,200.22h-4.8M256.0,182.54h4.8M648.0,182.54h-4.8M256.0,164.86h4.8M648.0,164.86h-4.8M256.0,147.18h4.8M648.0,147.18h-4.8" stroke="#000" stroke-width="2" fill="none" shape-rendering="crispEdges"/>
<rect x="256.0" y="131.0" width="392.0" height="261.0" fill="none" stroke="#000" stroke-width="2" shape-rendering="crispEdges"/>
<g shape-rendering="crispEdges">
<rect x="664.0" y="367.0" width="13.0" height="25.0" fill="#EE00AA"/>
<rect x="664.0" y="350.0" width="13.0" height="17.0" fill="#BB00AA"/>
<rect x="664.0" y="333.0" width="13.0" height="17.0" fill="#7700AA"/>
<rect x="664.0" y="316.0" width="13.0" height="17.0" fill="#0000AA"/>
<rect x="664.0" y="307.5" width="13.0" height="8.5" fill="#0022FF"/>
<rect x="664.0" y="299.0" width="13.0" height="8.5" fill="#00EEFF"/>
<rect x="664.0" y="290.5" width="13.0" height="8.5" fill="#00FF55"/>
<rect x="664.0" y="282.0" width="13.0" height="8.5" fill="#EEFF00"/>
<rect x="664.0" y="273.5" width="13.0" height="8.5" fill="#FFCC00"/>
<rect x="664.0" y="265.0" width="13.0" height="8.5" fill="#FFA500"/>
<rect x="664.0" y="248.0" width="13.0" height="17.0" fill="#FF6600"/>
<rect x="664.0" y="231.0" width="13.0" height="17.0" fill="#FF1111"/>
<rect x="664.0" y="214.0" width="13.0" height="17.0" fill="#FF7777"/>
<rect x="664.0" y="196.0" width="13.0" height="18.0" fill="#FFBBBB"/>
<rect x="663.0" y="367" width="15.0" height="1" fill="#000"/>
<rect x="663.0" y="350" width="15.0" height="1" fill="#000"/>
<rect x="663.0" y="333" width="15.0" height="1" fill="#000"/>
<rect x="663.0" y="316" width="15.0" height="1" fill="#000"/>
<rect x="663.0" y="307" width="15.0" height="1" fill="#000"/>
<rect x="663.0" y="299" width="15.0" height="1" fill="#000"/>
<rect x="663.0" y="290" width="15.0" height="1" fill="#000"/>
<rect x="663.0" y="282" width="15.0" height="1" fill="#000"/>
<rect x="663.0" y="273" width="15.0" height="1" fill="#000"/>
<rect x="663.0" y="265" width="15.0" height="1" fill="#000"/>
<rect x="663.0" y="248" width="15.0" height="1" fill="#000"/>
<rect x="663.0" y="231" width="15.0" height="1" fill="#000"/>
<rect x="663.0" y="214" width="15.0" height="1" fill="#000"/>
<rect x="663.0" y="196.0" width="2" height="197.0" fill="#000"/>
<rect x="676.0" y="196.0" width="2" height="197.0" fill="#000"/>
<rect x="663.0" y="391.0" width="15.0" height="2" fill="#000"/>
<rect x="663.0" y="195.0" width="15.0" height="1" fill="#000"/>
</g>
<path d="M664.0,195.5L670.5,170.7L677.0,195.5Z" fill="#FFDDDD" stroke="#000" stroke-width="2" stroke-linejoin="miter" stroke-miterlimit="10"/>
<path d="M185.99,63.40L185.99,84.40M185.99,73.40L184.08,71.40L182.16,70.40L179.29,70.40L177.37,71.40L175.46,73.40L174.50,76.40L174.50,78.40L175.46,81.40L177.37,83.40L179.29,84.40L182.16,84.40L184.08,83.40L185.99,81.40M192.69,63.40L193.65,64.40L194.61,63.40L193.65,62.40L192.69,63.40M193.65,70.40L193.65,84.40M210.89,73.40L209.93,71.40L207.06,70.40L204.18,70.40L201.31,71.40L200.35,73.40L201.31,75.40L203.23,76.40L208.01,77.40L209.93,78.40L210.89,80.40L210.89,81.40L209.93,83.40L207.06,84.40L204.18,84.40L201.31,83.40L200.35,81.40M218.55,63.40L218.55,80.40L219.50,83.40L221.42,84.40L223.33,84.40M215.67,70.40L222.38,70.40M229.08,70.40L229.08,80.40L230.04,83.40L231.95,84.40L234.82,84.40L236.74,83.40L239.61,80.40M239.61,70.40L239.61,84.40M247.27,70.40L247.27,84.40M247.27,76.40L248.23,73.40L250.14,71.40L252.06,70.40L254.93,70.40M259.72,63.40L259.72,84.40M259.72,73.40L261.63,71.40L263.55,70.40L266.42,70.40L268.34,71.40L270.25,73.40L271.21,76.40L271.21,78.40L270.25,81.40L268.34,83.40L266.42,84.40L263.55,84.40L261.63,83.40L259.72,81.40M277.91,70.40L277.91,80.40L278.87,83.40L280.78,84.40L283.66,84.40L285.57,83.40L288.44,80.40M288.44,70.40L288.44,84.40M296.10,70.40L296.10,84.40M296.10,74.40L298.98,71.40L300.89,70.40L303.76,70.40L305.68,71.40L306.64,74.40L306.64,84.40M324.83,73.40L322.91,71.40L321.00,70.40L318.13,70.40L316.21,71.40L314.30,73.40L313.34,76.40L313.34,78.40L314.30,81.40L316.21,83.40L318.13,84.40L321.00,84.40L322.91,83.40L324.83,81.40M330.57,76.40L342.06,76.40L342.06,74.40L341.11,72.40L340.15,71.40L338.23,70.40L335.36,70.40L333.45,71.40L331.53,73.40L330.57,76.40L330.57,78.40L331.53,81.40L333.45,83.40L335.36,84.40L338.23,84.40L340.15,83.40L342.06,81.40M367.92,70.40L366.00,71.40L364.09,73.40L363.13,76.40L363.13,78.40L364.09,81.40L366.00,83.40L367.92,84.40L370.79,84.40L372.71,83.40L374.62,81.40L375.58,78.40L375.58,76.40L374.62,73.40L372.71,71.40L370.79,70.40L367.92,70.40M388.03,63.40L386.11,63.40L384.20,64.40L383.24,67.40L383.24,84.40M380.37,70.40L387.07,70.40M409.09,70.40L409.09,91.40M409.09,73.40L411.01,71.40L412.92,70.40L415.79,70.40L417.71,71.40L419.62,73.40L420.58,76.40L420.58,78.40L419.62,81.40L417.71,83.40L415.79,84.40L412.92,84.40L411.01,83.40L409.09,81.40M431.11,70.40L429.20,71.40L427.28,73.40L426.33,76.40L426.33,78.40L427.28,81.40L429.20,83.40L431.11,84.40L433.99,84.40L435.90,83.40L437.82,81.40L438.77,78.40L438.77,76.40L437.82,73.40L435.90,71.40L433.99,70.40L431.11,70.40M446.43,63.40L446.43,80.40L447.39,83.40L449.31,84.40L451.22,84.40M443.56,70.40L450.26,70.40M456.01,76.40L467.50,76.40L467.50,74.40L466.54,72.40L465.58,71.40L463.67,70.40L460.80,70.40L458.88,71.40L456.97,73.40L456.01,76.40L456.01,78.40L456.97,81.40L458.88,83.40L460.80,84.40L463.67,84.40L465.58,83.40L467.50,81.40M474.20,70.40L474.20,84.40M474.20,74.40L477.07,71.40L478.99,70.40L481.86,70.40L483.78,71.40L484.73,74.40L484.73,84.40M493.35,63.40L493.35,80.40L494.31,83.40L496.22,84.40L498.14,84.40M490.48,70.40L497.18,70.40M502.93,63.40L503.88,64.40L504.84,63.40L503.88,62.40L502.93,63.40M503.88,70.40L503.88,84.40M522.08,70.40L522.08,84.40M522.08,73.40L520.16,71.40L518.25,70.40L515.37,70.40L513.46,71.40L511.54,73.40L510.59,76.40L510.59,78.40L511.54,81.40L513.46,83.40L515.37,84.40L518.25,84.40L520.16,83.40L522.08,81.40M529.74,63.40L529.74,84.40M553.68,63.40L553.68,80.40L554.63,83.40L556.55,84.40L558.46,84.40M550.80,70.40L557.51,70.40M563.25,76.40L574.74,76.40L574.74,74.40L573.78,72.40L572.83,71.40L570.91,70.40L568.04,70.40L566.12,71.40L564.21,73.40L563.25,76.40L563.25,78.40L564.21,81.40L566.12,83.40L568.04,84.40L570.91,84.40L572.83,83.40L574.74,81.40M581.44,70.40L581.44,84.40M581.44,74.40L584.32,71.40L586.23,70.40L589.10,70.40L591.02,71.40L591.98,74.40L591.98,84.40M591.98,74.40L594.85,71.40L596.76,70.40L599.64,70.40L601.55,71.40L602.51,74.40L602.51,84.40M610.17,70.40L610.17,91.40M610.17,73.40L612.08,71.40L614.00,70.40L616.87,70.40L618.79,71.40L620.70,73.40L621.66,76.40L621.66,78.40L620.70,81.40L618.79,83.40L616.87,84.40L614.00,84.40L612.08,83.40L610.17,81.40M627.40,76.40L638.89,76.40L638.89,74.40L637.94,72.40L636.98,71.40L635.06,70.40L632.19,70.40L630.28,71.40L628.36,73.40L627.40,76.40L627.40,78.40L628.36,81.40L630.28,83.40L632.19,84.40L635.06,84.40L636.98,83.40L638.89,81.40M645.60,70.40L645.60,84.40M645.60,76.40L646.55,73.40L648.47,71.40L650.38,70.40L653.26,70.40M668.58,70.40L668.58,84.40M668.58,73.40L666.66,71.40L664.75,70.40L661.87,70.40L659.96,71.40L658.04,73.40L657.09,76.40L657.09,78.40L658.04,81.40L659.96,83.40L661.87,84.40L664.75,84.40L666.66,83.40L668.58,81.40M677.19,63.40L677.19,80.40L678.15,83.40L680.07,84.40L681.98,84.40M674.32,70.40L681.02,70.40M687.73,70.40L687.73,80.40L688.68,83.40L690.60,84.40L693.47,84.40L695.39,83.40L698.26,80.40M698.26,70.40L698.26,84.40M705.92,70.40L705.92,84.40M705.92,76.40L706.88,73.40L708.79,71.40L710.71,70.40L713.58,70.40M717.41,76.40L728.90,76.40L728.90,74.40L727.94,72.40L726.98,71.40L725.07,70.40L722.20,70.40L720.28,71.40L718.37,73.40L717.41,76.40L717.41,78.40L718.37,81.40L720.28,83.40L722.20,84.40L725.07,84.40L726.98,83.40L728.90,81.40" fill="none" stroke="#000" stroke-width="2.0" stroke-linecap="round" stroke-linejoin="round" shape-rendering="crispEdges"/>
<path d="M169.40,95.15L168.14,96.05L166.89,97.40L165.63,99.20L165.00,101.45L165.00,103.25L165.63,105.50L166.89,107.30L168.14,108.65L169.40,109.55M173.40,99.88L182.60,107.08M182.60,99.88L173.40,107.08M188.30,100.55L189.50,100.10L191.30,98.75L191.30,108.20M197.10,98.75L197.10,108.20M197.10,98.75L208.30,98.75M197.10,103.25L203.99,103.25M197.10,108.20L208.30,108.20M215.10,98.75L209.30,105.05L218.00,105.05M215.10,98.75L215.10,108.20M229.20,101.90L229.20,108.20M229.20,103.70L230.99,102.35L232.18,101.90L233.96,101.90L235.15,102.35L235.75,103.70L235.75,108.20M235.75,103.70L237.54,102.35L238.73,101.90L240.51,101.90L241.70,102.35L242.30,103.70L242.30,108.20M246.60,95.15L247.91,96.05L249.23,97.40L250.54,99.20L251.20,101.45L251.20,103.25L250.54,105.50L249.23,107.30L247.91,108.65L246.60,109.55" fill="none" stroke="#000" stroke-width="2.0" stroke-linecap="round" stroke-linejoin="round" shape-rendering="crispEdges"/>
<path d="M657.51,131.15L657.51,140.58L658.05,142.25L659.13,142.80L660.20,142.80M655.90,135.03L659.67,135.03M663.43,136.14L673.11,136.14M663.43,139.47L673.11,139.47M683.87,135.03L683.34,136.70L682.26,137.81L680.65,138.36L680.11,138.36L678.49,137.81L677.42,136.70L676.88,135.03L676.88,134.48L677.42,132.81L678.49,131.70L680.11,131.15L680.65,131.15L682.26,131.70L683.34,132.81L683.87,135.03L683.87,137.81L683.34,140.58L682.26,142.25L680.65,142.80L679.57,142.80L677.96,142.25L677.42,141.14M690.87,131.15L689.25,131.70L688.18,133.37L687.64,136.14L687.64,137.81L688.18,140.58L689.25,142.25L690.87,142.80L691.94,142.80L693.56,142.25L694.63,140.58L695.17,137.81L695.17,136.14L694.63,133.37L693.56,131.70L691.94,131.15L690.87,131.15M701.63,131.15L700.01,131.70L698.94,133.37L698.40,136.14L698.40,137.81L698.94,140.58L700.01,142.25L701.63,142.80L702.70,142.80L704.32,142.25L705.39,140.58L705.93,137.81L705.93,136.14L705.39,133.37L704.32,131.70L702.70,131.15L701.63,131.15M712.38,131.15L710.77,131.70L709.70,133.37L709.16,136.14L709.16,137.81L709.70,140.58L710.77,142.25L712.38,142.80L713.46,142.80L715.07,142.25L716.15,140.58L716.69,137.81L716.69,136.14L716.15,133.37L715.07,131.70L713.46,131.15L712.38,131.15M723.14,131.15L721.53,131.70L720.45,133.37L719.92,136.14L719.92,137.81L720.45,140.58L721.53,142.25L723.14,142.80L724.22,142.80L725.83,142.25L726.91,140.58L727.45,137.81L727.45,136.14L726.91,133.37L725.83,131.70L724.22,131.15L723.14,131.15M745.20,136.70L744.66,135.59L743.05,135.03L741.43,135.03L739.82,135.59L739.28,136.70L739.82,137.81L740.90,138.36L743.59,138.92L744.66,139.47L745.20,140.58L745.20,141.14L744.66,142.25L743.05,142.80L741.43,142.80L739.82,142.25L739.28,141.14" fill="none" stroke="#000" stroke-width="1.05" stroke-linecap="round" stroke-linejoin="round" shape-rendering="crispEdges"/>
<path d="M571.80,424.75L570.54,425.65L569.29,427.00L568.03,428.80L567.40,431.05L567.40,432.85L568.03,435.10L569.29,436.90L570.54,438.25L571.80,439.15M575.80,429.48L585.00,436.68M585.00,429.48L575.80,436.68M590.70,430.15L591.90,429.70L593.70,428.35L593.70,437.80M599.50,428.35L599.50,437.80M599.50,428.35L610.70,428.35M599.50,432.85L606.39,432.85M599.50,437.80L610.70,437.80M619.16,428.35L612.94,428.35L612.32,432.40L612.94,431.95L614.81,431.50L616.67,431.50L618.54,431.95L619.78,432.85L620.40,434.20L620.40,435.10L619.78,436.45L618.54,437.35L616.67,437.80L614.81,437.80L612.94,437.35L612.32,436.90L611.70,436.00M631.60,431.50L631.60,437.80M631.60,433.30L633.39,431.95L634.58,431.50L636.36,431.50L637.55,431.95L638.15,433.30L638.15,437.80M638.15,433.30L639.94,431.95L641.13,431.50L642.91,431.50L644.10,431.95L644.70,433.30L644.70,437.80M649.00,424.75L650.31,425.65L651.63,427.00L652.94,428.80L653.60,431.05L653.60,432.85L652.94,435.10L651.63,436.90L650.31,438.25L649.00,439.15" fill="none" stroke="#000" stroke-width="2.0" stroke-linecap="round" stroke-linejoin="round" shape-rendering="crispEdges"/>
<path d="M374.00,451.50L384.80,468.30M384.80,451.50L374.00,468.30M390.20,461.10L404.09,461.10M418.75,459.50L417.21,457.90L415.66,457.10L413.35,457.10L411.81,457.90L410.26,459.50L409.49,461.90L409.49,463.50L410.26,465.90L411.81,467.50L413.35,468.30L415.66,468.30L417.21,467.50L418.75,465.90M427.24,457.10L425.70,457.90L424.15,459.50L423.38,461.90L423.38,463.50L424.15,465.90L425.70,467.50L427.24,468.30L429.55,468.30L431.10,467.50L432.64,465.90L433.41,463.50L433.41,461.90L432.64,459.50L431.10,457.90L429.55,457.10L427.24,457.10M441.90,457.10L440.35,457.90L438.81,459.50L438.04,461.90L438.04,463.50L438.81,465.90L440.35,467.50L441.90,468.30L444.21,468.30L445.76,467.50L447.30,465.90L448.07,463.50L448.07,461.90L447.30,459.50L445.76,457.90L444.21,457.10L441.90,457.10M453.47,457.10L453.47,468.30M453.47,461.90L454.24,459.50L455.79,457.90L457.33,457.10L459.64,457.10M471.99,451.50L471.99,468.30M471.99,459.50L470.45,457.90L468.90,457.10L466.59,457.10L465.05,457.90L463.50,459.50L462.73,461.90L462.73,463.50L463.50,465.90L465.05,467.50L466.59,468.30L468.90,468.30L470.45,467.50L471.99,465.90M477.39,451.50L478.16,452.30L478.93,451.50L478.16,450.70L477.39,451.50M478.16,457.10L478.16,468.30M484.33,457.10L484.33,468.30M484.33,460.30L486.65,457.90L488.19,457.10L490.51,457.10L492.05,457.90L492.82,460.30L492.82,468.30M507.48,457.10L507.48,468.30M507.48,459.50L505.94,457.90L504.40,457.10L502.08,457.10L500.54,457.90L498.99,459.50L498.22,461.90L498.22,463.50L498.99,465.90L500.54,467.50L502.08,468.30L504.40,468.30L505.94,467.50L507.48,465.90M514.43,451.50L514.43,465.10L515.20,467.50L516.74,468.30L518.28,468.30M512.11,457.10L517.51,457.10M522.14,461.90L531.40,461.90L531.40,460.30L530.63,458.70L529.86,457.90L528.31,457.10L526.00,457.10L524.46,457.90L522.91,459.50L522.14,461.90L522.14,463.50L522.91,465.90L524.46,467.50L526.00,468.30L528.31,468.30L529.86,467.50L531.40,465.90" fill="none" stroke="#000" stroke-width="2.0" stroke-linecap="round" stroke-linejoin="round" shape-rendering="crispEdges"/>
<path d="M200.57,330.55L218.00,341.40M200.57,341.40L200.57,330.55M218.00,341.40L218.00,330.55M210.53,325.12L210.53,311.17M208.87,296.45L207.21,298.00L206.38,299.55L206.38,301.88L207.21,303.42L208.87,304.97L211.36,305.75L213.02,305.75L215.51,304.97L217.17,303.42L218.00,301.88L218.00,299.55L217.17,298.00L215.51,296.45M206.38,287.92L207.21,289.47L208.87,291.02L211.36,291.80L213.02,291.80L215.51,291.02L217.17,289.47L218.00,287.92L218.00,285.60L217.17,284.05L215.51,282.50L213.02,281.72L211.36,281.72L208.87,282.50L207.21,284.05L206.38,285.60L206.38,287.92M206.38,273.20L207.21,274.75L208.87,276.30L211.36,277.07L213.02,277.07L215.51,276.30L217.17,274.75L218.00,273.20L218.00,270.88L217.17,269.32L215.51,267.77L213.02,267.00L211.36,267.00L208.87,267.77L207.21,269.32L206.38,270.88L206.38,273.20M206.38,261.57L218.00,261.57M211.36,261.57L208.87,260.80L207.21,259.25L206.38,257.70L206.38,255.37M200.57,242.97L218.00,242.97M208.87,242.97L207.21,244.52L206.38,246.07L206.38,248.40L207.21,249.95L208.87,251.50L211.36,252.27L213.02,252.27L215.51,251.50L217.17,249.95L218.00,248.40L218.00,246.07L217.17,244.52L215.51,242.97M200.57,237.55L201.40,236.77L200.57,236.00L199.74,236.77L200.57,237.55M206.38,236.77L218.00,236.77M206.38,230.57L218.00,230.57M209.70,230.57L207.21,228.25L206.38,226.70L206.38,224.37L207.21,222.82L209.70,222.05L218.00,222.05M206.38,207.32L218.00,207.32M208.87,207.32L207.21,208.87L206.38,210.42L206.38,212.75L207.21,214.30L208.87,215.85L211.36,216.62L213.02,216.62L215.51,215.85L217.17,214.30L218.00,212.75L218.00,210.42L217.17,208.87L215.51,207.32M200.57,200.35L214.68,200.35L217.17,199.57L218.00,198.02L218.00,196.47M206.38,202.67L206.38,197.25M211.36,192.60L211.36,183.30L209.70,183.30L208.04,184.07L207.21,184.85L206.38,186.40L206.38,188.72L207.21,190.27L208.87,191.82L211.36,192.60L213.02,192.60L215.51,191.82L217.17,190.27L218.00,188.72L218.00,186.40L217.17,184.85L215.51,183.30" fill="none" stroke="#000" stroke-width="2.0" stroke-linecap="round" stroke-linejoin="round" shape-rendering="crispEdges"/>
<path d="M330.05,404.20L331.53,403.60L333.75,401.80L333.75,414.40M404.66,404.80L404.66,404.20L405.40,403.00L406.14,402.40L407.62,401.80L410.58,401.80L412.06,402.40L412.80,403.00L413.54,404.20L413.54,405.40L412.80,406.60L411.32,408.40L403.92,414.40L414.28,414.40M482.30,401.80L490.44,401.80L486.00,406.60L488.22,406.60L489.70,407.20L490.44,407.80L491.18,409.60L491.18,410.80L490.44,412.60L488.96,413.80L486.74,414.40L484.52,414.40L482.30,413.80L481.56,413.20L480.82,412.00M564.05,401.80L556.65,410.20L567.75,410.20M564.05,401.80L564.05,414.40M642.70,401.80L635.30,401.80L634.56,407.20L635.30,406.60L637.52,406.00L639.74,406.00L641.96,406.60L643.44,407.80L644.18,409.60L644.18,410.80L643.44,412.60L641.96,413.80L639.74,414.40L637.52,414.40L635.30,413.80L634.56,413.20L633.82,412.00M235.64,213.72L235.64,213.09L236.38,211.83L237.12,211.20L238.60,210.57L241.56,210.57L243.04,211.20L243.78,211.83L244.52,213.09L244.52,214.35L243.78,215.61L242.30,217.50L234.90,223.80L245.26,223.80M238.75,300.86L240.23,300.24L242.45,298.38L242.45,311.40" fill="none" stroke="#000" stroke-width="2.4" stroke-linecap="round" stroke-linejoin="round" shape-rendering="crispEdges"/>
<path d="M696.10,225.25L689.89,236.80M687.40,225.25L696.10,225.25M687.99,270.40L687.99,269.85L688.59,268.75L689.18,268.20L690.36,267.65L692.74,267.65L693.92,268.20L694.51,268.75L695.11,269.85L695.11,270.95L694.51,272.05L693.33,273.70L687.40,279.20L695.70,279.20M687.40,299.85L697.87,299.85M703.69,295.45L704.85,294.90L706.60,293.25L706.60,304.80M687.40,333.25L697.60,333.25M708.37,326.65L702.70,326.65L702.13,331.60L702.70,331.05L704.40,330.50L706.10,330.50L707.80,331.05L708.93,332.15L709.50,333.80L709.50,334.90L708.93,336.55L707.80,337.65L706.10,338.20L704.40,338.20L702.70,337.65L702.13,337.10L701.57,336.00M687.40,392.45L697.19,392.45M702.63,388.05L703.72,387.50L705.35,385.85L705.35,397.40M712.43,388.60L712.43,388.05L712.97,386.95L713.52,386.40L714.60,385.85L716.78,385.85L717.87,386.40L718.41,386.95L718.96,388.05L718.96,389.15L718.41,390.25L717.32,391.90L711.88,397.40L719.50,397.40" fill="none" stroke="#000" stroke-width="2.0" stroke-linecap="round" stroke-linejoin="round" shape-rendering="crispEdges"/>
</svg>
</body></html>
